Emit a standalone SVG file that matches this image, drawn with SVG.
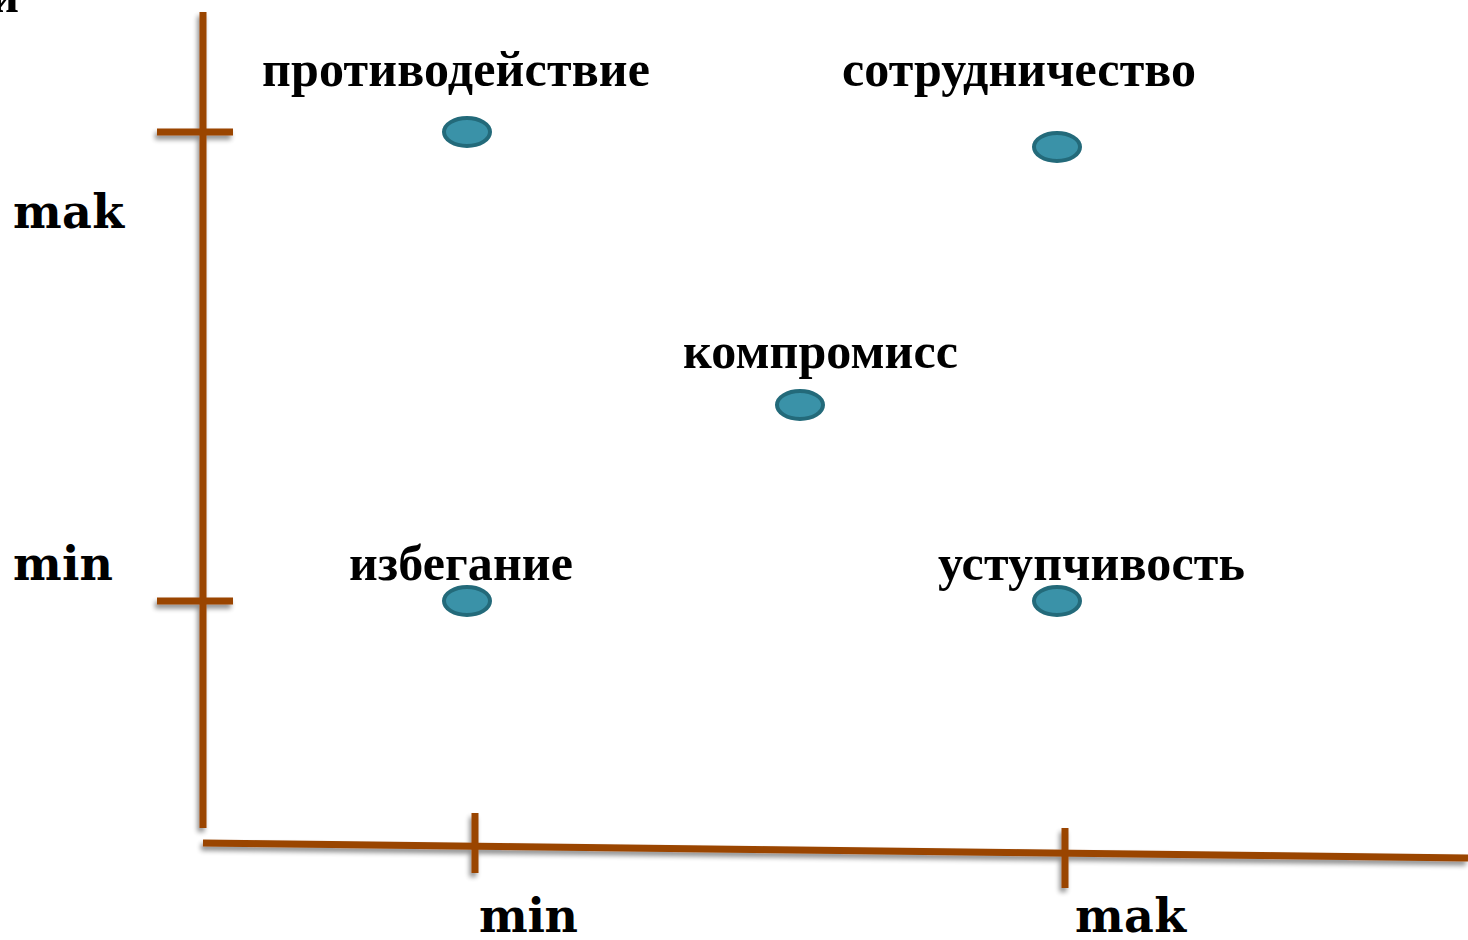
<svg xmlns="http://www.w3.org/2000/svg" width="1468" height="940" viewBox="0 0 1468 940">
<style>
.ax{stroke:#9A4505;stroke-width:7;fill:none;stroke-linecap:butt}
.pt{fill:#3A92A8;stroke:#236A7A;stroke-width:4}
.lb{font-family:"Liberation Serif",serif;font-weight:bold;font-size:50px;fill:#000}
.ml{font-family:"DejaVu Serif","Liberation Serif",serif;font-weight:bold;font-size:46px;fill:#000}
</style>
<defs>
<filter id="sh" x="-5%" y="-5%" width="110%" height="110%">
<feGaussianBlur in="SourceAlpha" stdDeviation="2.5"/>
<feOffset dx="-2" dy="4" result="b"/>
<feComponentTransfer><feFuncA type="linear" slope="0.45"/></feComponentTransfer>
<feMerge><feMergeNode/><feMergeNode in="SourceGraphic"/></feMerge>
</filter>
</defs>
<rect width="1468" height="940" fill="#fff"/>
<g id="connectors" filter="url(#sh)">
<line class="ax" x1="203" y1="12" x2="203" y2="828"/>
<line class="ax" x1="157" y1="132" x2="233" y2="132"/>
<line class="ax" x1="157" y1="601" x2="233" y2="601"/>
<line class="ax" x1="203" y1="843" x2="1468" y2="858"/>
<line class="ax" x1="475" y1="813" x2="475" y2="873"/>
<line class="ax" x1="1065" y1="828" x2="1065" y2="888"/>
</g>
<g id="n1"><ellipse class="pt" cx="467" cy="132" rx="23" ry="14"/><text class="lb" x="262" y="86" textLength="388">противодействие</text></g>
<g id="n2"><ellipse class="pt" cx="1057" cy="147" rx="23" ry="14"/><text class="lb" x="842" y="86" textLength="354">сотрудничество</text></g>
<g id="n3"><ellipse class="pt" cx="800" cy="405" rx="23" ry="14"/><text class="lb" x="683" y="368" textLength="275">компромисс</text></g>
<g id="n4"><ellipse class="pt" cx="467" cy="601" rx="23" ry="14"/><text class="lb" x="349" y="580" textLength="224">избегание</text></g>
<g id="n5"><ellipse class="pt" cx="1057" cy="601" rx="23" ry="14"/><text class="lb" x="938" y="580" textLength="307">уступчивость</text></g>
<g id="labels">
<text class="lb" x="19" y="12" text-anchor="end">и</text>
<text class="ml" x="13" y="228" textLength="111">mak</text>
<text class="ml" x="13" y="580" textLength="100">min</text>
<text class="ml" x="479" y="932" textLength="99">min</text>
<text class="ml" x="1075" y="932" textLength="111">mak</text>
</g>
</svg>
